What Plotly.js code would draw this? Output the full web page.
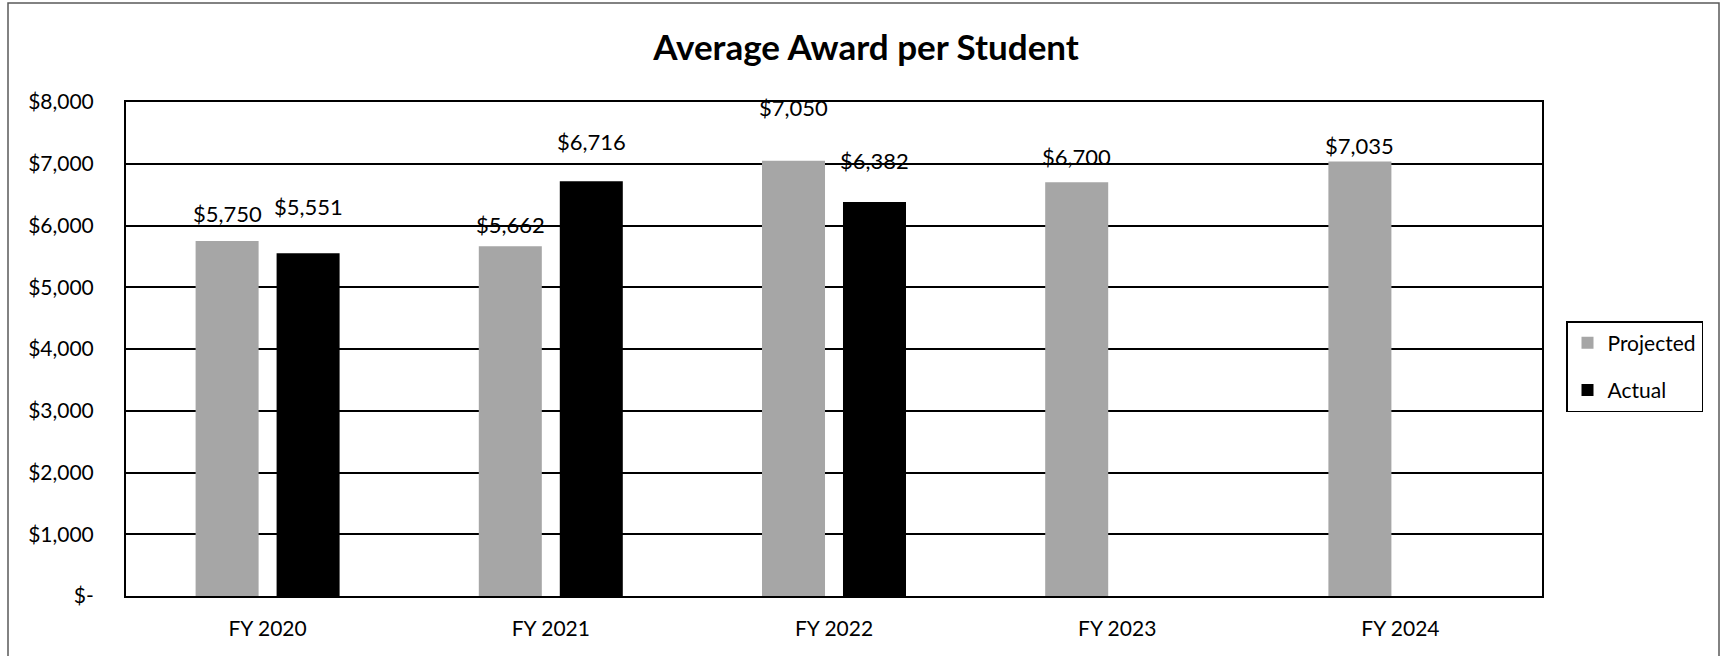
<!DOCTYPE html>
<html>
<head>
<meta charset="utf-8">
<script src="https://cdn.plot.ly/plotly-3.0.1.min.js"></script>
<style>
  html, body { margin: 0; padding: 0; background: #fff; }
  #chart { width: 1723px; height: 656px; }
</style>
</head>
<body>
<div id="chart"></div>
<script>
// ---- data ----
const categories = ["FY 2020", "FY 2021", "FY 2022", "FY 2023", "FY 2024"];
const projected = [5750, 5662, 7050, 6700, 7035];
const actual = [5551, 6716, 6382, null, null];
const yTickVals = [0, 1000, 2000, 3000, 4000, 5000, 6000, 7000, 8000];
const yTickText = ["$-", "$1,000", "$2,000", "$3,000", "$4,000", "$5,000", "$6,000", "$7,000", "$8,000"];

// ---- style (label lift in px above bar top, as placed in the reference) ----
const projectedLift = [27, 22, 53, 26, 16];
const actualLift = [47, 40, 41, 0, 0];

const FONT = "Lato, 'Open Sans', sans-serif";
const fmt = v => "$" + v.toLocaleString("en-US");

const traces = [
  { type: "bar", name: "Projected", x: categories, y: projected,
    marker: { color: "#a6a6a6" }, legendgroup: "p", hoverinfo: "none" },
  { type: "bar", name: "Actual", x: categories, y: actual,
    marker: { color: "#000000" }, legendgroup: "a", hoverinfo: "none" }
];

const annotations = [];
projected.forEach((v, i) => {
  if (v == null) return;
  annotations.push({ x: categories[i], y: v, xref: "x", yref: "y", text: fmt(v),
    showarrow: false, xshift: -40.5, yshift: projectedLift[i], yanchor: "middle",
    font: { family: FONT, size: 22, color: "#000" } });
});
actual.forEach((v, i) => {
  if (v == null) return;
  annotations.push({ x: categories[i], y: v, xref: "x", yref: "y", text: fmt(v),
    showarrow: false, xshift: 40.5, yshift: actualLift[i], yanchor: "middle",
    font: { family: FONT, size: 22, color: "#000" } });
});

// pixel box -> paper coords
const L = 126, R = 181, T = 102, B = 60, W = 1723, H = 656;
const pw = W - L - R, ph = H - T - B;
const px = x => (x - L) / pw;
const py = y => (H - B - y) / ph;

const layout = {
  width: W, height: H,
  margin: { l: L, r: R, t: T, b: B, pad: 0 },
  paper_bgcolor: "#fff", plot_bgcolor: "#fff",
  font: { family: FONT, size: 21, color: "#000" },
  title: { text: "<b>Average Award per Student</b>", x: 866 / W, xref: "container", xanchor: "center",
    y: 1 - 48 / H, yref: "container", yanchor: "middle",
    font: { family: FONT, size: 35, color: "#000" } },
  barmode: "group", bargap: 0.428, bargroupgap: 0.222,
  showlegend: true,
  legend: { x: px(1566), y: py(321), xanchor: "left", yanchor: "top",
    bordercolor: "#000", borderwidth: 1.5, bgcolor: "#fff",
    font: { family: FONT, size: 21, color: "#000" },
    traceorder: "grouped", tracegroupgap: 17, itemwidth: 30 },
  xaxis: { type: "category", showline: true, mirror: true, linecolor: "#000", linewidth: 2,
    showgrid: false, ticks: "outside", ticklen: 13, tickcolor: "rgba(0,0,0,0)",
    tickfont: { family: FONT, size: 21, color: "#000" }, fixedrange: true },
  yaxis: { range: [0, 8000], tickvals: yTickVals, ticktext: yTickText,
    showline: true, mirror: true, linecolor: "#000", linewidth: 2,
    showgrid: true, gridcolor: "#000", gridwidth: 2, zeroline: false,
    ticks: "outside", ticklen: 26, tickcolor: "rgba(0,0,0,0)",
    tickfont: { family: FONT, size: 21, color: "#000" }, fixedrange: true },
  annotations: annotations,
  shapes: [{ type: "rect", xref: "paper", yref: "paper",
    x0: px(8), x1: px(1719), y0: py(660), y1: py(3),
    line: { color: "#595959", width: 1.5 }, fillcolor: "rgba(0,0,0,0)", layer: "below" }]
};

Plotly.newPlot("chart", traces, layout, { displayModeBar: false, staticPlot: true });
</script>
</body>
</html>
